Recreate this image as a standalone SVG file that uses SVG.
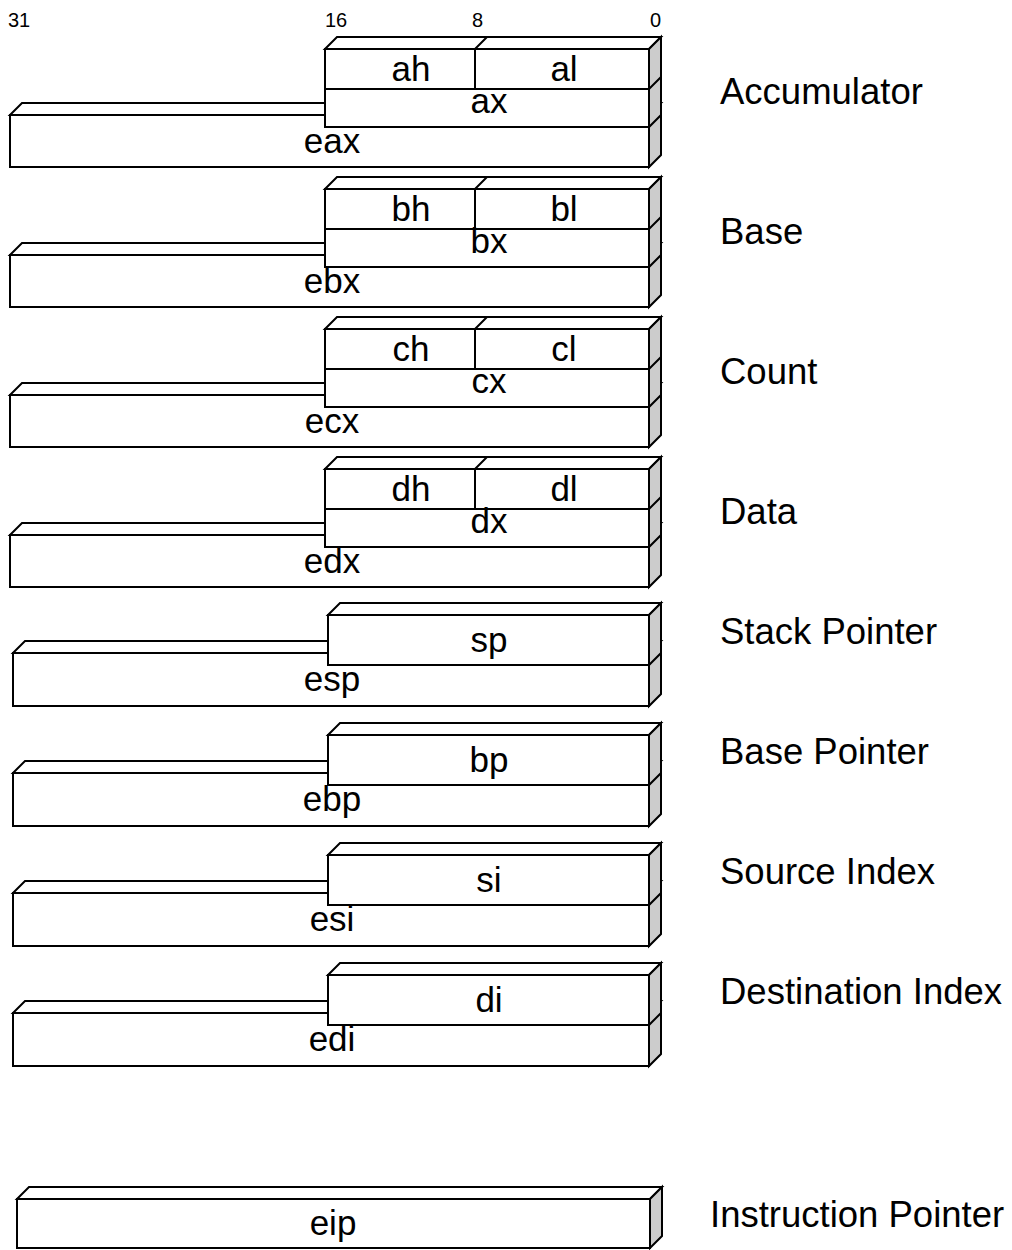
<svg xmlns="http://www.w3.org/2000/svg" width="1012" height="1250" viewBox="0 0 1012 1250">
  <style>
    .face { fill: #ffffff; stroke: #000000; stroke-width: 2; stroke-linejoin: miter; }
    .side { fill: #cccccc; stroke: #000000; stroke-width: 2; stroke-linejoin: miter; }
    .ln { fill: none; stroke: #000000; stroke-width: 2; }
    .reg { font-family: "Liberation Sans", Arial, sans-serif; font-size: 35px; fill: #000000; text-anchor: middle; }
    .lbl { font-family: "Liberation Sans", Arial, sans-serif; font-size: 36.5px; fill: #000000; }
    .bit { font-family: "Liberation Sans", Arial, sans-serif; font-size: 20px; fill: #000000; }
  </style>

  <!-- bit numbers -->
  <g id="bit-scale">
    <text class="bit" x="8" y="27">31</text>
    <text class="bit" x="325" y="27">16</text>
    <text class="bit" x="472" y="27">8</text>
    <text class="bit" x="650" y="27">0</text>
  </g>

  <!-- general purpose registers with 8-bit halves -->
  <g id="reg-a">
    <polygon class="face" points="10,115 22,103 661,103 649,115"/>
    <rect class="face" x="10" y="115" width="639" height="52"/>
    <polygon class="side" points="649,115 661,103 661,155 649,167"/>
    <polygon class="face" points="325,49 337,37 661,37 649,49"/>
    <rect class="face" x="325" y="49" width="324" height="78"/>
    <polygon class="side" points="649,49 661,37 661,115 649,127"/>
    <path class="ln" d="M325,89 H649 L661,77 M475,49 V89 M475,49 L487,37"/>
    <text class="reg" x="411" y="81">ah</text>
    <text class="reg" x="564" y="81">al</text>
    <text class="reg" x="489" y="113">ax</text>
    <text class="reg" x="332" y="153">eax</text>
    <text class="lbl" x="720" y="104">Accumulator</text>
  </g>

  <g id="reg-b" transform="translate(0,140)">
    <polygon class="face" points="10,115 22,103 661,103 649,115"/>
    <rect class="face" x="10" y="115" width="639" height="52"/>
    <polygon class="side" points="649,115 661,103 661,155 649,167"/>
    <polygon class="face" points="325,49 337,37 661,37 649,49"/>
    <rect class="face" x="325" y="49" width="324" height="78"/>
    <polygon class="side" points="649,49 661,37 661,115 649,127"/>
    <path class="ln" d="M325,89 H649 L661,77 M475,49 V89 M475,49 L487,37"/>
    <text class="reg" x="411" y="81">bh</text>
    <text class="reg" x="564" y="81">bl</text>
    <text class="reg" x="489" y="113">bx</text>
    <text class="reg" x="332" y="153">ebx</text>
    <text class="lbl" x="720" y="104">Base</text>
  </g>

  <g id="reg-c" transform="translate(0,280)">
    <polygon class="face" points="10,115 22,103 661,103 649,115"/>
    <rect class="face" x="10" y="115" width="639" height="52"/>
    <polygon class="side" points="649,115 661,103 661,155 649,167"/>
    <polygon class="face" points="325,49 337,37 661,37 649,49"/>
    <rect class="face" x="325" y="49" width="324" height="78"/>
    <polygon class="side" points="649,49 661,37 661,115 649,127"/>
    <path class="ln" d="M325,89 H649 L661,77 M475,49 V89 M475,49 L487,37"/>
    <text class="reg" x="411" y="81">ch</text>
    <text class="reg" x="564" y="81">cl</text>
    <text class="reg" x="489" y="113">cx</text>
    <text class="reg" x="332" y="153">ecx</text>
    <text class="lbl" x="720" y="104">Count</text>
  </g>

  <g id="reg-d" transform="translate(0,420)">
    <polygon class="face" points="10,115 22,103 661,103 649,115"/>
    <rect class="face" x="10" y="115" width="639" height="52"/>
    <polygon class="side" points="649,115 661,103 661,155 649,167"/>
    <polygon class="face" points="325,49 337,37 661,37 649,49"/>
    <rect class="face" x="325" y="49" width="324" height="78"/>
    <polygon class="side" points="649,49 661,37 661,115 649,127"/>
    <path class="ln" d="M325,89 H649 L661,77 M475,49 V89 M475,49 L487,37"/>
    <text class="reg" x="411" y="81">dh</text>
    <text class="reg" x="564" y="81">dl</text>
    <text class="reg" x="489" y="113">dx</text>
    <text class="reg" x="332" y="153">edx</text>
    <text class="lbl" x="720" y="104">Data</text>
  </g>

  <!-- pointer and index registers -->
  <g id="reg-sp">
    <polygon class="face" points="13,653 25,641 661,641 649,653"/>
    <rect class="face" x="13" y="653" width="636" height="53"/>
    <polygon class="side" points="649,653 661,641 661,694 649,706"/>
    <polygon class="face" points="328,615 340,603 661,603 649,615"/>
    <rect class="face" x="328" y="615" width="321" height="50"/>
    <polygon class="side" points="649,615 661,603 661,653 649,665"/>
    <text class="reg" x="489" y="652">sp</text>
    <text class="reg" x="332" y="691">esp</text>
    <text class="lbl" x="720" y="644">Stack Pointer</text>
  </g>

  <g id="reg-bp" transform="translate(0,120)">
    <polygon class="face" points="13,653 25,641 661,641 649,653"/>
    <rect class="face" x="13" y="653" width="636" height="53"/>
    <polygon class="side" points="649,653 661,641 661,694 649,706"/>
    <polygon class="face" points="328,615 340,603 661,603 649,615"/>
    <rect class="face" x="328" y="615" width="321" height="50"/>
    <polygon class="side" points="649,615 661,603 661,653 649,665"/>
    <text class="reg" x="489" y="652">bp</text>
    <text class="reg" x="332" y="691">ebp</text>
    <text class="lbl" x="720" y="644">Base Pointer</text>
  </g>

  <g id="reg-si" transform="translate(0,240)">
    <polygon class="face" points="13,653 25,641 661,641 649,653"/>
    <rect class="face" x="13" y="653" width="636" height="53"/>
    <polygon class="side" points="649,653 661,641 661,694 649,706"/>
    <polygon class="face" points="328,615 340,603 661,603 649,615"/>
    <rect class="face" x="328" y="615" width="321" height="50"/>
    <polygon class="side" points="649,615 661,603 661,653 649,665"/>
    <text class="reg" x="489" y="652">si</text>
    <text class="reg" x="332" y="691">esi</text>
    <text class="lbl" x="720" y="644">Source Index</text>
  </g>

  <g id="reg-di" transform="translate(0,360)">
    <polygon class="face" points="13,653 25,641 661,641 649,653"/>
    <rect class="face" x="13" y="653" width="636" height="53"/>
    <polygon class="side" points="649,653 661,641 661,694 649,706"/>
    <polygon class="face" points="328,615 340,603 661,603 649,615"/>
    <rect class="face" x="328" y="615" width="321" height="50"/>
    <polygon class="side" points="649,615 661,603 661,653 649,665"/>
    <text class="reg" x="489" y="652">di</text>
    <text class="reg" x="332" y="691">edi</text>
    <text class="lbl" x="720" y="644">Destination Index</text>
  </g>

  <!-- instruction pointer -->
  <g id="reg-ip">
    <polygon class="face" points="17,1199 29,1187 662,1187 650,1199"/>
    <rect class="face" x="17" y="1199" width="633" height="49"/>
    <polygon class="side" points="650,1199 662,1187 662,1236 650,1248"/>
    <text class="reg" x="333" y="1235">eip</text>
    <text class="lbl" x="710" y="1227">Instruction Pointer</text>
  </g>

  <g id="connectors"/>
</svg>
